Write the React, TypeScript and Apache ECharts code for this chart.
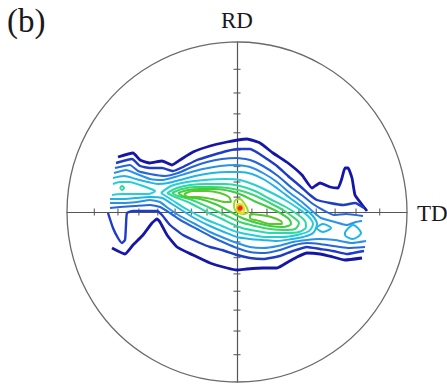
import React, { useEffect, useRef } from "react";
import * as echarts from "echarts";

// Pole figure in stereographic projection units: equator circle radius R
const R = 170;
// Tilt-angle ticks (degrees) along the RD and TD axes
const tickDegrees = [10, 20, 30, 40, 50, 60, 70, 80];

// Contour levels from outermost (lowest intensity) to the peak
const level1Upper = [[-119,55],[-104,59],[-97,52],[-87,49],[-75,51],[-65,47],[-57,52],[-44,60],[-27,66],[-10,70],[1,72],[10,73],[23,69],[36,59],[51,49],[65,37],[75,24],[83,29],[93,25],[101,24],[105,34],[108,44],[111,44],[115,34],[118,17],[123,10],[130,1]];
const level1Lower = [[-125,-36],[-112,-42],[-104,-33],[-94,-23],[-85,-11],[-80,-7],[-77,-10],[-70,-23],[-60,-35],[-44,-43],[-27,-51],[-10,-56],[0,-58],[10,-57],[26,-56],[40,-56],[51,-50],[60,-45],[70,-41],[83,-42],[96,-45],[108,-48],[125,-46]];

const level2Upper = [[-121,49],[-105,53],[-97,46],[-87,44],[-75,44],[-64,41],[-54,45],[-40,52],[-24,57],[-10,61],[1,63],[13,63],[21,59],[30,53],[40,46],[51,36],[63,26],[73,17],[80,12],[93,9],[106,7],[118,9],[127,4]];
const level2Lower = [[-129,-1],[-124,-16],[-119,-26],[-115,-31],[-112,-28],[-111,-13],[-110,-1],[-104,1],[-80,1],[-75,-3],[-67,-13],[-54,-23],[-37,-31],[-27,-35],[-15,-38],[0,-43],[13,-46],[26,-47],[43,-44],[56,-39],[70,-35],[83,-37],[96,-39],[110,-42],[121,-40],[127,-39]];

const level3Upper = [[-122,44],[-107,47],[-99,41],[-87,38],[-72,36],[-59,39],[-45,45],[-30,50],[-15,53],[0,54],[13,52],[26,46],[41,36],[55,24],[66,16],[76,8],[86,2],[97,-3],[109,-2],[126,-4]];
const level3Lower = [[-127,4],[-117,5],[-102,6],[-87,7],[-77,5],[-67,-1],[-55,-9],[-40,-17],[-25,-25],[-12,-31],[0,-36],[13,-40],[28,-41],[43,-38],[58,-33],[70,-31],[83,-32],[96,-34],[111,-36],[128,-35]];

const level4Upper = [[-123,39],[-111,42],[-100,38],[-87,33],[-74,32],[-62,35],[-49,39],[-34,43],[-17,46],[0,47],[13,45],[26,39],[40,30],[53,19],[65,10],[74,2],[84,-6],[98,-10],[110,-13],[119,-10],[125,-9]];
const level4Lower = [[-127,9],[-115,9],[-100,10],[-87,12],[-77,10],[-69,4],[-57,-4],[-42,-12],[-27,-20],[-13,-26],[0,-31],[13,-35],[26,-36],[41,-34],[56,-30],[70,-28],[81,-27],[98,-28],[115,-31],[129,-29]];

const level5Band = [[-124,34],[-113,36],[-101,33],[-89,30],[-79,28],[-69,29],[-57,32],[-42,36],[-25,39],[-9,40],[3,40],[15,38],[28,32],[41,23],[53,14],[65,5],[75,-3],[80,-12],[76,-21],[66,-25],[55,-27],[40,-29],[25,-28],[13,-27],[0,-25],[-13,-20],[-27,-14],[-41,-7],[-54,1],[-65,8],[-75,14],[-87,15],[-102,14],[-115,13],[-127,13]];
const level5RightIslandA = [[79,-16],[86,-12],[94,-16],[86,-20],[79,-16]];
const level5RightIslandB = [[108,-20],[116,-13],[124,-21],[116,-27],[108,-23],[108,-20]];

const level6LeftArm = [[-124,28],[-117,30],[-108,30],[-97,27],[-86,23],[-82,21],[-89,18],[-102,18],[-115,18],[-125,17]];
const level6Core = [[-76,19],[-66,26],[-50,30],[-32,32],[-12,33],[3,32],[18,27],[33,20],[48,12],[62,3],[72,-5],[76,-12],[72,-19],[60,-23],[45,-25],[30,-25],[15,-23],[0,-20],[-15,-14],[-32,-7],[-49,2],[-65,12],[-76,19]];

const level7LeftDot = [[-117,24],[-115,26],[-113,24],[-115,22],[-117,24]];
const level7Core = [[-70,19],[-60,24],[-47,27],[-30,28],[-12,28],[3,26],[18,21],[33,13],[47,6],[60,-2],[68,-9],[69,-15],[62,-20],[50,-21],[35,-21],[20,-19],[5,-16],[-5,-12],[-15,-7],[-32,1],[-47,9],[-62,15],[-70,19]];

const level8Core = [[-65,19],[-55,23],[-42,25],[-25,25],[-9,24],[5,21],[19,16],[33,9],[46,2],[56,-5],[62,-11],[58,-17],[47,-18],[33,-17],[18,-14],[3,-10],[-12,-3],[-29,5],[-45,12],[-59,16],[-65,19]];

const level9Core = [[-59,19],[-49,22],[-37,23],[-22,23],[-7,21],[5,17],[17,11],[31,5],[43,-1],[52,-7],[54,-12],[46,-15],[33,-14],[20,-11],[5,-6],[-8,1],[-22,8],[-37,13],[-52,15],[-59,19]];

const level10LeftLobe = [[-53,18],[-44,21],[-30,21],[-17,19],[-8,15],[-6,10],[-12,10],[-25,13],[-39,15],[-49,15],[-53,18]];
const level10RightLobe = [[13,-2],[23,-3],[34,-5],[44,-9],[45,-12],[34,-12],[22,-9],[13,-6],[13,-2]];

const level11Peak = [[-2,12],[3,13],[7,9],[10,4],[11,0],[7,-2],[2,-1],[-2,2],[-3,7],[-2,12]];
const level12Peak = [[0,8],[4,8],[7,4],[7,0],[4,-1],[0,2],[0,8]];
const level13Peak = [[1,6],[4,6],[5,3],[3,1],[1,3],[1,6]];
const level14Peak = [[2,5],[4,5],[4,3],[2,3],[2,5]];

const levelColors = ["#1616a6", "#1f3cc6", "#2766d8", "#2a92e6", "#22b4e8", "#24cfd6", "#2ed8a4", "#3cd672", "#40cc40", "#58c82a", "#9ada22", "#e6e020", "#f09a22", "#e2301c"];
const levelWidths = [2.8, 2.4, 2.1, 2, 2, 2, 2, 2, 2, 2, 2, 2, 2.2, 2.6];

const levels = [
  [level1Upper, level1Lower],
  [level2Upper, level2Lower],
  [level3Upper, level3Lower],
  [level4Upper, level4Lower],
  [level5Band, level5RightIslandA, level5RightIslandB],
  [level6LeftArm, level6Core],
  [level7LeftDot, level7Core],
  [level8Core],
  [level9Core],
  [level10LeftLobe, level10RightLobe],
  [level11Peak],
  [level12Peak],
  [level13Peak],
  [level14Peak],
];

const serif = "'Liberation Serif', 'Times New Roman', serif";

export default function App() {
  const ref = useRef<HTMLDivElement>(null);

  useEffect(() => {
    if (!ref.current) return;
    const chart = echarts.init(ref.current, null, { renderer: "svg" });

    const tickPos = tickDegrees.map((d) => R * Math.tan((d * Math.PI) / 360));
    const allTicks = [...tickPos, ...tickPos.map((v) => -v)];

    const contourSeries: any[] = [];
    levels.forEach((paths, i) => {
      paths.forEach((p) => {
        contourSeries.push({
          type: "line",
          data: p,
          showSymbol: false,
          symbol: "none",
          smooth: i < 4 ? 0.15 : 0.3,
          silent: true,
          z: 5 + i,
          lineStyle: { color: levelColors[i], width: levelWidths[i] },
        });
      });
    });

    const axisCommon = {
      type: "value",
      min: -R,
      max: R,
      axisLine: { show: true, onZero: true, lineStyle: { color: "#555", width: 1.2 } },
      axisTick: { show: false },
      axisLabel: { show: false },
      splitLine: { show: false },
    };

    chart.setOption({
      animation: false,
      grid: { left: 67, top: 42, width: 340, height: 340 },
      xAxis: axisCommon,
      yAxis: axisCommon,
      series: [
        {
          type: "scatter",
          data: allTicks.map((v) => [v, 0]),
          symbol: "rect",
          symbolSize: [1.3, 7],
          itemStyle: { color: "#555" },
          silent: true,
          z: 2,
        },
        {
          type: "scatter",
          data: allTicks.map((v) => [0, v]),
          symbol: "rect",
          symbolSize: [7, 1.3],
          itemStyle: { color: "#555" },
          silent: true,
          z: 2,
        },
        ...contourSeries,
      ],
    });

    const c = chart.convertToPixel({ gridIndex: 0 }, [0, 0]) as number[];
    const e = chart.convertToPixel({ gridIndex: 0 }, [R, 0]) as number[];
    const top = chart.convertToPixel({ gridIndex: 0 }, [0, R]) as number[];
    const r = e[0] - c[0];

    chart.setOption({
      graphic: [
        {
          type: "circle",
          shape: { cx: c[0], cy: c[1], r },
          style: { fill: "none", stroke: "#6a6a6a", lineWidth: 1.3 },
          silent: true,
          z: 1,
        },
        {
          type: "text",
          x: c[0],
          y: top[1] - 22,
          style: { text: "RD", font: `23px ${serif}`, fill: "#1a1a1a", align: "center", verticalAlign: "middle" },
        },
        {
          type: "text",
          x: e[0] + 10,
          y: c[1] + 1,
          style: { text: "TD", font: `23px ${serif}`, fill: "#1a1a1a", align: "left", verticalAlign: "middle" },
        },
        {
          type: "text",
          x: 7,
          y: 21,
          style: { text: "(b)", font: `33px ${serif}`, fill: "#1a1a1a", align: "left", verticalAlign: "middle" },
        },
      ],
    });

    return () => chart.dispose();
  }, []);

  return (
    <div
      ref={ref}
      style={{ position: "fixed", left: 0, top: 0, width: 447, height: 386, background: "#fff" }}
    />
  );
}
